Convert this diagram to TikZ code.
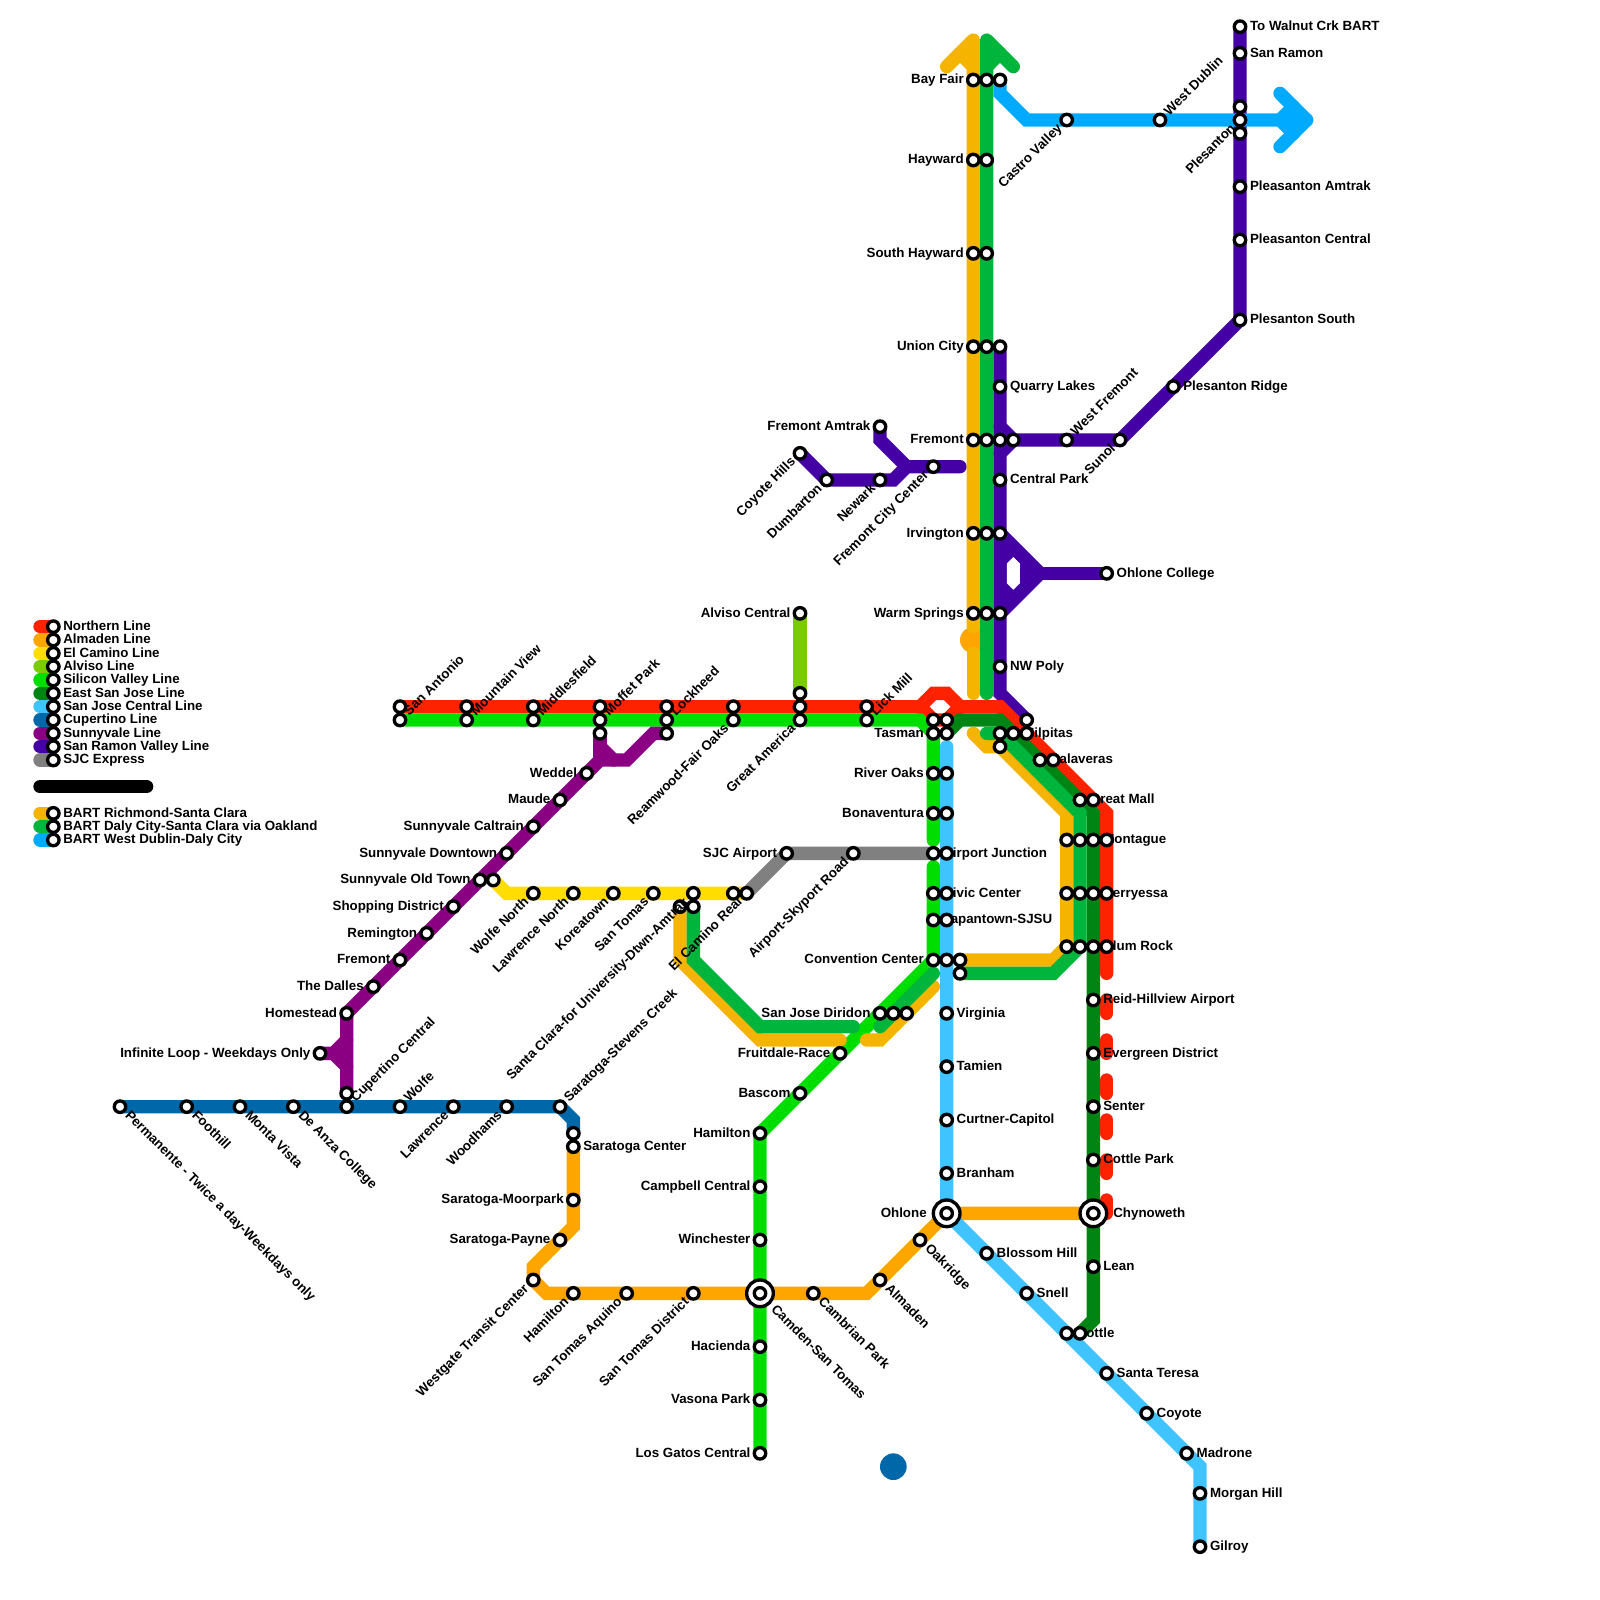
\documentclass[tikz,border=0pt]{standalone}
\usepackage{fontspec}
\setmainfont{Liberation Sans}
\pgfdeclarelayer{lines}
\pgfdeclarelayer{labels}
\pgfsetlayers{lines,labels,main}
\definecolor{cRed}{HTML}{FF2200}
\definecolor{cOrange}{HTML}{FFA500}
\definecolor{cYellow}{HTML}{FFDD00}
\definecolor{cAlviso}{HTML}{7ACC00}
\definecolor{cSilicon}{HTML}{00DD00}
\definecolor{cEast}{HTML}{008515}
\definecolor{cCentral}{HTML}{3FC4FF}
\definecolor{cCupertino}{HTML}{0068A8}
\definecolor{cSunny}{HTML}{8B0082}
\definecolor{cRamon}{HTML}{4500A5}
\definecolor{cGrey}{HTML}{808080}
\definecolor{cAmber}{HTML}{F5B400}
\definecolor{cBart}{HTML}{00B53C}
\definecolor{cDublin}{HTML}{00AAFF}
\tikzset{
  ln/.style={line width=10pt,line cap=round,line join=miter,miter limit=4},
  lnr/.style={line width=10pt,line cap=round,line join=round},
  stn/.style={circle,draw=black,fill=white,line width=2.5pt,minimum size=8.6pt,inner sep=0pt,outer sep=0pt},
  hub/.style={circle,draw=black,fill=white,line width=2.5pt,minimum size=20pt,inner sep=0pt,outer sep=0pt},
  lab/.style={font=\fontsize{10}{12}\selectfont\bfseries,inner sep=0pt,outer sep=0pt,text height=7.2pt,text depth=0pt,black},
}
% station macros: id, x, y, text
\newcommand\Sn[3]{\node[stn] (#1) at (#2,#3) {};}
\newcommand\Lf[4]{\Sn{#1}{#2}{#3}\begin{pgfonlayer}{labels}\node[lab,anchor=east] (#1-l) at ($(#2,#3)+(-0.72,-0.08)$) {#4};\end{pgfonlayer}}
\newcommand\Rt[4]{\Sn{#1}{#2}{#3}\begin{pgfonlayer}{labels}\node[lab,anchor=west] (#1-l) at ($(#2,#3)+(0.75,-0.08)$) {#4};\end{pgfonlayer}}
\newcommand\Ur[4]{\Sn{#1}{#2}{#3}\begin{pgfonlayer}{labels}\node[lab,anchor=west,rotate=45] (#1-l) at ($(#2,#3)+(0.45,-0.55)$) {#4};\end{pgfonlayer}}
\newcommand\Dl[4]{\Sn{#1}{#2}{#3}\begin{pgfonlayer}{labels}\node[lab,anchor=east,rotate=45] (#1-l) at ($(#2,#3)+(-0.55,0.45)$) {#4};\end{pgfonlayer}}
\newcommand\Dr[4]{\Sn{#1}{#2}{#3}\begin{pgfonlayer}{labels}\node[lab,anchor=west,rotate=-45] (#1-l) at ($(#2,#3)+(0.6,0.45)$) {#4};\end{pgfonlayer}}
\usetikzlibrary{calc}
\begin{document}
\begin{tikzpicture}[x=10pt,y=-10pt]
\useasboundingbox (0,0) rectangle (120,120);
% ---------- legend
\foreach \i/\c/\t in {47/cRed/Northern Line,48/cOrange/Almaden Line,49/cYellow/El Camino Line,50/cAlviso/Alviso Line,51/cSilicon/Silicon Valley Line,52/cEast/East San Jose Line,53/cCentral/San Jose Central Line,54/cCupertino/Cupertino Line,55/cSunny/Sunnyvale Line,56/cRamon/San Ramon Valley Line,57/cGrey/SJC Express,61/cAmber/BART Richmond-Santa Clara,62/cBart/BART Daly City-Santa Clara via Oakland,63/cDublin/BART West Dublin-Daly City}{
  \coordinate (key\i) at (3,\i);
  \Rt{keyst\i}{4}{\i}{\t}
  \begin{pgfonlayer}{lines}\draw[ln,\c] (key\i) -- (keyst\i.center);\end{pgfonlayer}
}
\coordinate (barL) at (3,59); \coordinate (barR) at (11,59);
\draw[ln,black] (barL) -- (barR);
% ---------- stations: horizontal trunk
\Sn{sanantonio}{30}{53}\Ur{sa2}{30}{54}{San Antonio}
\Sn{mtview}{35}{53}\Ur{mv2}{35}{54}{Mountain View}
\Sn{middlesfield}{40}{53}\Ur{mf2}{40}{54}{Middlesfield}
\Sn{moffet}{45}{53}\Ur{mo2}{45}{54}{Moffet Park}\Sn{mo3}{45}{55}
\Sn{lockheed}{50}{53}\Ur{lo2}{50}{54}{Lockheed}\Sn{lo3}{50}{55}
\Sn{rw1}{55}{53}\Dl{reamwood}{55}{54}{Reamwood-Fair Oaks}
\Sn{ga0}{60}{52}\Sn{ga1}{60}{53}\Dl{greatam}{60}{54}{Great America}
\Sn{lickmill}{65}{53}\Ur{lm2}{65}{54}{Lick Mill}
\Sn{ta1}{70}{54}\Sn{ta2}{71}{54}\Lf{tasman}{70}{55}{Tasman}\Sn{ta4}{71}{55}
\Lf{riveroaks}{70}{58}{River Oaks}\Sn{ro2}{71}{58}
\Lf{bonaventura}{70}{61}{Bonaventura}\Sn{bo2}{71}{61}
\Rt{airportj}{70}{64}{Airport Junction}\Sn{aj2}{71}{64}
\Rt{civic}{70}{67}{Civic Center}\Sn{cc2}{71}{67}
\Rt{japan}{70}{69}{Japantown-SJSU}\Sn{jp2}{71}{69}
\Lf{convention}{70}{72}{Convention Center}\Sn{co2}{71}{72}\Sn{co3}{72}{72}\Sn{co4}{72}{73}
\Rt{virginia}{71}{76}{Virginia}\Rt{tamien}{71}{80}{Tamien}\Rt{curtner}{71}{84}{Curtner-Capitol}\Rt{branham}{71}{88}{Branham}
% Ohlone hub
\node[hub] (ohloneO) at (71,91) {};
\Sn{ohlone}{71}{91}
\begin{pgfonlayer}{labels}\node[lab,anchor=east] (ohlone-t) at ($(71,91)+(-1.5,-0.08)$) {Ohlone};\end{pgfonlayer}
\Rt{blossom}{74}{94}{Blossom Hill}\Rt{snell}{77}{97}{Snell}
\Sn{bt1}{80}{100}
\begin{pgfonlayer}{labels}\node[lab,anchor=west] (bt-l) at ($(80,100)+(0.75,-0.08)$) {Bottle};\end{pgfonlayer}
\Sn{bottle}{81}{100}
\Rt{teresa}{83}{103}{Santa Teresa}\Rt{coyote}{86}{106}{Coyote}\Rt{madrone}{89}{109}{Madrone}\Rt{morgan}{90}{112}{Morgan Hill}\Rt{gilroy}{90}{116}{Gilroy}
% BART trunk
\Lf{bayfair}{73}{6}{Bay Fair}\Sn{bf2}{74}{6}\Sn{bf3}{75}{6}
\Lf{hayward}{73}{12}{Hayward}\Sn{hw2}{74}{12}
\Lf{shayward}{73}{19}{South Hayward}\Sn{sh2}{74}{19}
\Lf{union}{73}{26}{Union City}\Sn{un2}{74}{26}\Sn{un3}{75}{26}
\Rt{quarry}{75}{29}{Quarry Lakes}
\Lf{fremontb}{73}{33}{Fremont}\Sn{fr2}{74}{33}\Sn{fr3}{75}{33}\Sn{fr4}{76}{33}
\Rt{centralp}{75}{36}{Central Park}
\Lf{irvington}{73}{40}{Irvington}\Sn{ir2}{74}{40}\Sn{ir3}{75}{40}
\Lf{warm}{73}{46}{Warm Springs}\Sn{ws2}{74}{46}\Sn{ws3}{75}{46}
\Rt{nwpoly}{75}{50}{NW Poly}
\Rt{ohlonecol}{83}{43}{Ohlone College}
\Sn{mi0}{77}{54}\Sn{mi1}{75}{55}
\Rt{milpitas}{76}{55}{Milpitas}\Sn{mi3}{77}{55}\Sn{mi4}{75}{56}
\Rt{calaveras}{78}{57}{Calaveras}\Sn{cv2}{79}{57}
\Rt{greatmall}{81}{60}{Great Mall}\Sn{gm2}{82}{60}
\Sn{mt1}{80}{63}\Sn{mt2}{81}{63}\Rt{montague}{82}{63}{Montague}\Sn{mt4}{83}{63}
\Sn{be1}{80}{67}\Sn{be2}{81}{67}\Rt{berryessa}{82}{67}{Berryessa}\Sn{be4}{83}{67}
\Sn{bl1}{80}{71}\Sn{bl2}{81}{71}\Rt{blum}{82}{71}{Blum Rock}\Sn{bl4}{83}{71}
\Rt{reid}{82}{75}{Reid-Hillview Airport}\Rt{evergreen}{82}{79}{Evergreen District}\Rt{senter}{82}{83}{Senter}\Rt{cottle}{82}{87}{Cottle Park}
\node[hub] (chynO) at (82,91) {};
\Sn{chyn}{82}{91}
\begin{pgfonlayer}{labels}\node[lab,anchor=west] (chyn-l) at ($(82,91)+(1.5,-0.08)$) {Chynoweth};\end{pgfonlayer}
\Rt{lean}{82}{95}{Lean}
% West Dublin / San Ramon
\Dl{castro}{80}{9}{Castro Valley}\Ur{wdublin}{87}{9}{West Dublin}
\Rt{walnut}{93}{2}{To Walnut Crk BART}\Rt{sanramon}{93}{4}{San Ramon}
\Sn{pl0}{93}{8}\Dl{pl1}{93}{9}{Plesanton}\Sn{plesanton}{93}{10}
\Rt{pamtrak}{93}{14}{Pleasanton Amtrak}\Rt{pcentral}{93}{18}{Pleasanton Central}\Rt{psouth}{93}{24}{Plesanton South}
\Rt{pridge}{88}{29}{Plesanton Ridge}\Dl{sunol}{84}{33}{Sunol}\Ur{wfremont}{80}{33}{West Fremont}
% Dumbarton branch
\Lf{famtrak}{66}{32}{Fremont Amtrak}\Dl{coyoteh}{60}{34}{Coyote Hills}\Dl{dumbarton}{62}{36}{Dumbarton}\Dl{newark}{66}{36}{Newark}\Dl{fcity}{70}{35}{Fremont City Center}
% Alviso
\Lf{alviso}{60}{46}{Alviso Central}
% Sunnyvale
\Lf{weddel}{44}{58}{Weddel}\Lf{maude}{42}{60}{Maude}\Lf{caltrain}{40}{62}{Sunnyvale Caltrain}\Lf{sdown}{38}{64}{Sunnyvale Downtown}\Lf{soldtown}{36}{66}{Sunnyvale Old Town}\Lf{shopping}{34}{68}{Shopping District}\Lf{remington}{32}{70}{Remington}\Lf{fremonts}{30}{72}{Fremont}\Lf{dalles}{28}{74}{The Dalles}\Lf{homestead}{26}{76}{Homestead}\Lf{infinite}{24}{79}{Infinite Loop - Weekdays Only}
% El Camino + SJC
\Sn{ec0}{37}{66}\Dl{wolfen}{40}{67}{Wolfe North}\Dl{lawn}{43}{67}{Lawrence North}\Dl{korea}{46}{67}{Koreatown}\Dl{stomas}{49}{67}{San Tomas}
\begin{pgfonlayer}{labels}\node[stn] (sc1) at (51,68) {};\end{pgfonlayer}
\Dl{sc0}{52}{67}{Santa Clara-for University-Dtwn-Amtrak}\Sn{sc2}{52}{68}
\Sn{ecr0}{55}{67}\Dl{ecr}{56}{67}{El Camino Real}
\Lf{sjc}{59}{64}{SJC Airport}\Dl{skyport}{64}{64}{Airport-Skyport Road}
% Diridon etc
\Lf{diridon}{66}{76}{San Jose Diridon}\Sn{di2}{67}{76}\Sn{di3}{68}{76}
\Lf{fruitdale}{63}{79}{Fruitdale-Race}\Lf{bascom}{60}{82}{Bascom}\Lf{hamiltong}{57}{85}{Hamilton}\Lf{campbell}{57}{89}{Campbell Central}\Lf{winchester}{57}{93}{Winchester}
\node[hub] (camdenO) at (57,97) {};
\Sn{camden}{57}{97}
\begin{pgfonlayer}{labels}\node[lab,anchor=west,rotate=-45] (camden-l) at ($(57,97)+(1.05,1.0)$) {Camden-San Tomas};\end{pgfonlayer}
\Lf{hacienda}{57}{101}{Hacienda}\Lf{vasona}{57}{105}{Vasona Park}\Lf{losgatos}{57}{109}{Los Gatos Central}
% Almaden
\Dr{cambrian}{61}{97}{Cambrian Park}\Dr{almaden}{66}{96}{Almaden}\Dr{oakridge}{69}{93}{Oakridge}
\Dl{stdistrict}{52}{97}{San Tomas District}\Dl{staquino}{47}{97}{San Tomas Aquino}\Dl{hamiltono}{43}{97}{Hamilton}\Dl{westgate}{40}{96}{Westgate Transit Center}
\Lf{payne}{42}{93}{Saratoga-Payne}\Lf{moorpark}{43}{90}{Saratoga-Moorpark}\Rt{saratogac}{43}{86}{Saratoga Center}\Sn{sar0}{43}{85}
% Cupertino
\Dr{permanente}{9}{83}{Permanente - Twice a day-Weekdays only}\Dr{foothill}{14}{83}{Foothill}\Dr{monta}{18}{83}{Monta Vista}\Dr{deanza}{22}{83}{De Anza College}
\Sn{cupc}{26}{82}\Ur{cup2}{26}{83}{Cupertino Central}\Ur{wolfe}{30}{83}{Wolfe}\Dl{lawrence}{34}{83}{Lawrence}\Dl{woodhams}{38}{83}{Woodhams}\Ur{stevens}{42}{83}{Saratoga-Stevens Creek}
% dot
\node[circle,fill=cCupertino,minimum size=20pt,inner sep=0pt,outer sep=0pt] (dot) at (67,110) {};
% ---------- lines
\begin{pgfonlayer}{lines}
% San Ramon
\draw[ln,cRamon] (un3.center) -- (75,52) -- (mi0.center);
\draw[ln,cRamon] (75,32) -- (fr4.center) -- (sunol.center) -- (psouth.center) -- (walnut.center);
\draw[ln,cRamon] (75,34) -- (fr4.center);
\draw[ln,cRamon] (ir3.center) -- (78,43) -- (ws3.center);
\draw[ln,cRamon] (78,43) -- (ohlonecol.center);
\fill[cRamon,even odd rule] (ir3.center) -- (78,43) -- (ws3.center) -- cycle
  (76,41.75) -- (76.5,42.25) -- (76.5,43.75) -- (76,44.25) -- (75.5,43.75) -- (75.5,42.25) -- cycle;
\draw[ln,cRamon] (coyoteh.center) -- (dumbarton.center) -- (67,36) -- (68,35) -- (72,35);
\draw[ln,cRamon] (famtrak.center) -- (66,33) -- (68,35);
% Northern
\draw[ln,cRed] (sanantonio.center) -- (lickmill.center) -- (69,53) -- (70,52) -- (71,52) -- (72,53) -- (75,53) -- (83,61) -- (83,73);
\draw[ln,cRed] (69,53) -- (ta1.center) -- (ta2.center) -- (72,53);
\foreach \a/\b in {75/76,78/79,81/82,84/85,87/88,90/91}{\draw[ln,cRed] (83,\a) -- (83,\b);}
% Almaden
\draw[ln,cOrange] (chyn.center) -- (ohlone.center) -- (65,97) -- (41,97) -- (westgate.center) -- (40,95) -- (43,92) -- (saratogac.center);
% El Camino
\draw[ln,cYellow] (ec0.center) -- (38,67) -- (ecr.center);
% Alviso
\draw[ln,cAlviso] (alviso.center) -- (ga0.center);
% Silicon
\draw[ln,cSilicon] (sa2.center) -- (69,54) -- (tasman.center) -- (70,63);
\draw[ln,cSilicon] (70,65) -- (convention.center) -- (hamiltong.center) -- (losgatos.center);
% East
\draw[ln,cEast] (ta4.center) -- (72,54) -- (75,54) -- (82,61) -- (82,99) -- (bottle.center);
% Central
\draw[ln,cCentral] (71,56) -- (ohlone.center) -- (90,110) -- (gilroy.center);
% Cupertino
\draw[ln,cCupertino] (permanente.center) -- (stevens.center) -- (43,84) -- (sar0.center);
% Sunnyvale
\draw[ln,cSunny] (cupc.center) -- (homestead.center) -- (45,57) -- (47,57) -- (49,55) -- (lo3.center);
\draw[ln,cSunny] (mo3.center) -- (45,57);
\draw[ln,cSunny] (45,56) -- (46,57);
\draw[ln,cSunny] (infinite.center) -- (25,79) -- (26,78);
\draw[ln,cSunny] (25,79) -- (26,80);
\fill[cSunny] (25,79) -- (26,78) -- (26,80) -- cycle;
% SJC
\draw[ln,cGrey] (ecr.center) -- (sjc.center) -- (airportj.center);
% BART Richmond
\fill[cOrange] (73,48) circle (10pt);
\draw[lnr,cAmber] (71,5) -- (73,3) -- (73,47);
\draw[ln,cAmber] (72,4) -- (73,5);
\draw[ln,cAmber] (73,49) -- (73,52);
\draw[ln,cAmber] (73,55) -- (74,56) -- (mi4.center) -- (80,61) -- (80,71) -- (79,72) -- (co3.center);
\draw[ln,cAmber] (sc1.center) -- (51,72) -- (57,78) -- (63,78);
\draw[ln,cAmber] (70,74) -- (66,78) -- (65,78);
% BART Daly City
\draw[lnr,cBart] (76,5) -- (74,3) -- (74,52);
\draw[ln,cBart] (75,4) -- (74,5);
\draw[ln,cBart] (74,55) -- (75,55) -- (81,61) -- (81,71) -- (79,73) -- (co4.center);
\draw[ln,cBart] (sc2.center) -- (52,72) -- (57,77) -- (64,77);
\draw[ln,cBart] (70,73) -- (66,77);
% BART West Dublin
\draw[ln,cDublin] (bf3.center) -- (75,7) -- (77,9) -- (98,9);
\draw[lnr,cDublin] (96,7) -- (98,9) -- (96,11);
\draw[ln,cDublin] (97,8) -- (96,9) -- (97,10);
\fill[cDublin] (96,9) -- (97,8) -- (98,9) -- (97,10) -- cycle;
\end{pgfonlayer}
\end{tikzpicture}
\end{document}
